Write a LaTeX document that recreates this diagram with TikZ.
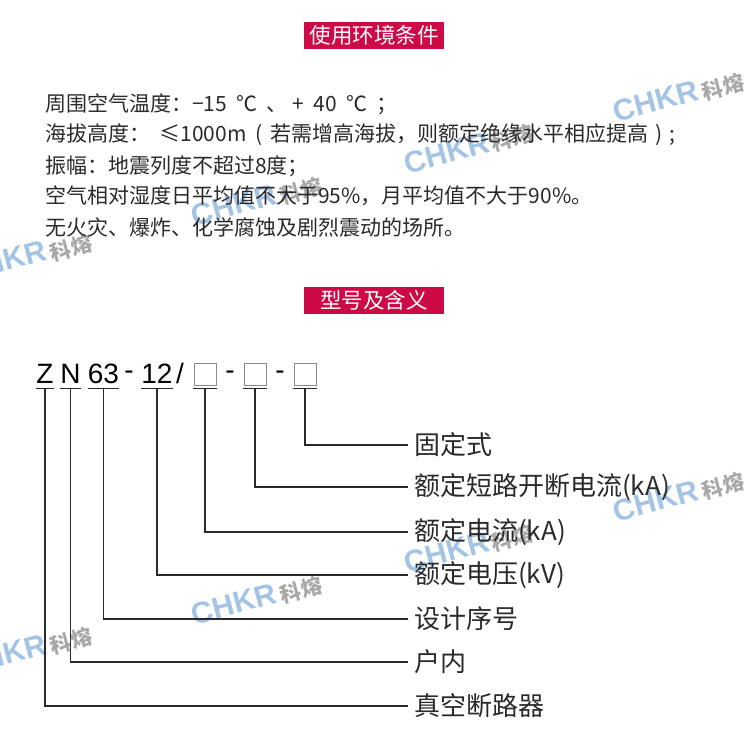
\documentclass[tikz,border=0pt]{standalone}
\usepackage{fontspec}
\setmainfont{Liberation Sans}
\newfontfamily\cjk{Noto Sans CJK SC}
\usetikzlibrary{positioning}
\definecolor{bannerred}{HTML}{CC0A46}
\definecolor{markblue}{HTML}{A3C4E4}
\definecolor{markgrey}{HTML}{A8A8A8}
\definecolor{inkgrey}{HTML}{2A2A2A}
\definecolor{slotgrey}{HTML}{8A8A8A}
\tikzset{
	banner/.style={fill=bannerred, text=white, inner sep=0pt, minimum width=140, minimum height=27, font=\cjk\fontsize{21.5}{21.5}\selectfont},
	condline/.style={anchor=west, inner sep=0pt, text=inkgrey, font=\cjk\fontsize{21}{21}\selectfont},
	codepart/.style={inner sep=0pt, minimum height=28, text=black, font=\fontsize{28}{28}\selectfont},
	codesep/.style={inner sep=0pt, text=black, font=\fontsize{28}{28}\selectfont},
	slotbox/.style={draw=slotgrey, thick, inner sep=0pt, minimum width=22, minimum height=22},
	meaning/.style={anchor=west, inner sep=0pt, text=inkgrey, font=\cjk\fontsize{26}{26}\selectfont},
	leader/.style={draw=inkgrey, line width=1.1pt},
	markname/.style={rotate=15, inner sep=0pt, text=markblue, font=\bfseries\fontsize{30}{30}\selectfont},
	marktag/.style={rotate=15, inner sep=0pt, text=markgrey, font=\cjk\bfseries\fontsize{21}{21}\selectfont},
}
\begin{document}
\begin{tikzpicture}[x=1pt, y=-1pt]
	\useasboundingbox (0,0) rectangle (750,740);
	\clip (0,0) rectangle (750,740);
	% watermarks
	\node[markname] (markA) at (656,101) {CHKR};
	\node[marktag] (tagA) at (723,87) {科熔};
	\node[markname] (markB) at (447,153) {CHKR};
	\node[marktag] (tagB) at (512,138) {科熔};
	\node[markname] (markC) at (234,604) {CHKR};
	\node[marktag] (tagC) at (301,590) {科熔};
	\node[markname] (markD) at (234,205) {CHKR};
	\node[marktag] (tagD) at (301,191) {科熔};
	\node[markname] (markE) at (4,261) {CHKR};
	\node[marktag] (tagE) at (71,248) {科熔};
	\node[markname] (markF) at (656,501) {CHKR};
	\node[marktag] (tagF) at (723,486) {科熔};
	\node[markname] (markG) at (447,552) {CHKR};
	\node[marktag] (tagG) at (512,538) {科熔};
	\node[markname] (markH) at (4,655) {CHKR};
	\node[marktag] (tagH) at (71,641) {科熔};
	% first block
	\node[banner] (bannerUse) at (374,35.5) {使用环境条件};
	\node[condline] (condTemp) at (45,104) {周围空气温度：−15~~℃~~、~+~~40~~℃~~；};
	\node[condline] (condAlt) at (45,135) {海拔高度：~~≤1000m\hspace{4pt}~(\hspace{3pt}~若需增高海拔，则额定绝缘水平相应提高\hspace{3pt}~)\hspace{2pt}~;};
	\node[condline] (condQuake) at (45,166) {振幅：地震列度不超过8度；};
	\node[condline] (condHum) at (45,196) {空气相对湿度日平均值不大于95\%，月平均值不大于90\%。};
	\node[condline] (condSite) at (45,227) {无火灾、爆炸、化学腐蚀及剧烈震动的场所。};
	% second block
	\node[banner] (bannerType) at (374,300) {型号及含义};
	\node[codepart, minimum width=16] (partZ) at (45,374) {Z};
	\node[codepart, minimum width=17] (partN) at (70.5,374) {N};
	\node[codepart, minimum width=23] (partSer) at (103.5,374) {63};
	\node[codesep] (dashA) at (129,375) {-};
	\node[codepart, minimum width=23] (partVolt) at (157,374) {12};
	\node[codesep] (slash) at (180,373) {/};
	\node[slotbox] (slotA) at (205,374) {};
	\node[codepart, minimum width=23] (partA) at (205,374) {};
	\node[codesep] (dashB) at (230,375) {-};
	\node[slotbox] (slotB) at (255,374) {};
	\node[codepart, minimum width=23] (partB) at (255,374) {};
	\node[codesep] (dashC) at (280,375) {-};
	\node[slotbox] (slotC) at (305,374) {};
	\node[codepart, minimum width=23] (partC) at (305,374) {};
	\node[meaning] (textFix) at (414,445) {固定式};
	\node[meaning] (textBreak) at (414,487) {额定短路开断电流(kA)};
	\node[meaning] (textCurr) at (414,532) {额定电流(kA)};
	\node[meaning] (textVolt) at (414,575) {额定电压(kV)};
	\node[meaning] (textSer) at (414,619) {设计序号};
	\node[meaning] (textIn) at (414,662) {户内};
	\node[meaning] (textVac) at (414,706) {真空断路器};
	% underlines
	\draw[leader] (partZ.south west) -- (partZ.south east);
	\draw[leader] (partN.south west) -- (partN.south east);
	\draw[leader] (partSer.south west) -- (partSer.south east);
	\draw[leader] (partVolt.south west) -- (partVolt.south east);
	\draw[leader] (partA.south west) -- (partA.south east);
	\draw[leader] (partB.south west) -- (partB.south east);
	\draw[leader] (partC.south west) -- (partC.south east);
	% leaders
	\draw[leader] (partC.south) |- ([xshift=-6]textFix.west);
	\draw[leader] (partB.south) |- ([xshift=-6]textBreak.west);
	\draw[leader] (partA.south) |- ([xshift=-6]textCurr.west);
	\draw[leader] (partVolt.south) |- ([xshift=-6]textVolt.west);
	\draw[leader] (partSer.south) |- ([xshift=-6]textSer.west);
	\draw[leader] (partN.south) |- ([xshift=-6]textIn.west);
	\draw[leader] (partZ.south) |- ([xshift=-6]textVac.west);
\end{tikzpicture}
\end{document}
